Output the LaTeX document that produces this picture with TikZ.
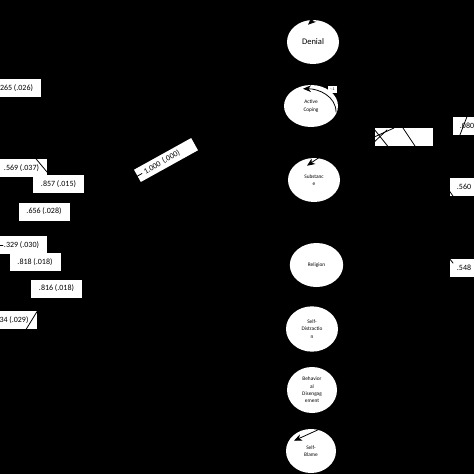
\documentclass[tikz,border=0pt]{standalone}
\usepackage{fontspec}
\setmainfont{Carlito}
\usetikzlibrary{shapes.geometric,arrows.meta}
\begin{document}
\begin{tikzpicture}[x=0.75pt,y=-0.75pt,line join=round,line cap=round,>={Stealth[length=6pt,width=5pt]},
	oval/.style={ellipse,fill=white,inner sep=0pt,minimum width=39pt,minimum height=33pt,align=center,font=\fontsize{4}{5.5}\selectfont},
	est/.style={fill=white,inner sep=0pt,minimum width=38.25pt,minimum height=13.5pt,font=\fontsize{6}{7}\selectfont},
	rest/.style={fill=white,anchor=west,inner xsep=5pt,inner ysep=0pt,minimum height=13.5pt,text width=30pt,align=left,font=\fontsize{6}{7}\selectfont},
	link/.style={black,line width=0.6pt}]
		\fill[black] (0,0) rectangle (474,474);
		\useasboundingbox (0,0) rectangle (474,474);
		% factors
		\node[oval,font=\fontsize{6.4}{7}\selectfont] (den) at (313,42) {Denial};
		\node[oval,minimum width=40.5pt,minimum height=31.5pt] (act) at (311,106) {Active\\Coping};
		\node[oval] (sub) at (314,180) {Substanc\\e};
		\node[oval,minimum width=40pt] (rel) at (316.5,265) {Religion};
		\node[oval,minimum height=34pt] (dis) at (312,329) {Self-\\Distractio\\n};
		\node[oval,minimum width=37.5pt,minimum height=34.5pt] (beh) at (312,390) {Behavior\\al\\Disengag\\ement};
		\node[oval,minimum width=37.5pt] (bla) at (311,451) {Self-\\Blame};
		\node[fill=white,inner sep=0pt,minimum width=6.75pt,minimum height=5pt,font=\fontsize{3}{3}\selectfont] (acv) at (332.5,89.5) {-.1};
		% left estimates
		\node[est] (l1) at (15.5,88) {.265 (.026)};
		\node[est] (l2) at (21.5,168) {.569 (.037)};
		\node[est] (l3) at (58.5,184) {.857 (.015)};
		\node[est] (l4) at (44,211.5) {.656 (.028)};
		\node[est] (l5) at (21.5,245) {.329 (.030)};
		\node[est] (l6) at (35,262) {.818 (.018)};
		\node[est] (l7) at (56.5,288.5) {.816 (.018)};
		\node[est,minimum width=34.5pt] (l8) at (14,320) {34 (.029)};
		\node[est,rotate=29,minimum width=49pt,minimum height=10.5pt,text width=37pt,inner xsep=6pt,align=left] (fix) at (166,160) {1.000 (.000)};
		% right estimates
		\node[est,minimum width=43.5pt] (r0) at (404,137) {};
		\node[rest] (r1) at (453,126) {.080};
		\node[rest] (r2) at (450,187) {.560};
		\node[rest] (r3) at (450,267.5) {.548};
		% loose ends of the paths
		\coordinate (a1) at (22,142);  \coordinate (a2) at (47,172);
		\coordinate (b1) at (-10,245); \coordinate (b2) at (3,245);
		\coordinate (c1) at (22,336);  \coordinate (c2) at (38,310);
		\coordinate (d1) at (120,186); \coordinate (d2) at (142,173.5);
		\coordinate (e1) at (370,124); \coordinate (e2) at (390,149);
		\coordinate (f1) at (372,138); \coordinate (f2) at (394,128);
		\coordinate (g1) at (372,144); \coordinate (g2) at (387,130);
		\coordinate (h1) at (401,125); \coordinate (h2) at (417,149);
		\coordinate (i1) at (458,140); \coordinate (i2) at (468,114);
		\coordinate (j1) at (446,186); \coordinate (j2) at (455,199);
		\coordinate (k1) at (445,253); \coordinate (k2) at (453,263);
		\coordinate (dn) at (335,0);
		\coordinate (sn) at (330,150);
		\coordinate (bn) at (322,428);
		\coordinate (an) at (336,112);
		\foreach \s/\t in {a1/a2,b1/b2,c1/c2,d1/d2,e1/e2,f1/f2,g1/g2,h1/h2,i1/i2,j1/j2,k1/k2}
			\draw[link] (\s)--(\t);
		\draw[link,->] (dn)--([shift={(-5,5)}]den.north);
		\draw[link,->] (sn)--([shift={(-7,8)}]sub.north);
		\draw[link,->] (bn)--([shift={(-17,12)}]bla.north);
		\draw[link,->] (an) to[out=90,in=0] ([shift={(-8,4)}]act.north);
	\end{tikzpicture}
\end{document}
